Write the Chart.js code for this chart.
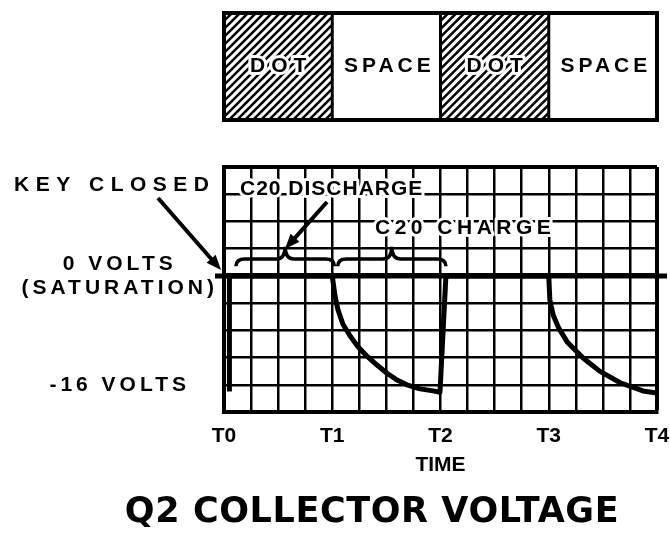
<!DOCTYPE html>
<html>
<head>
<meta charset="utf-8">
<script src="https://cdn.jsdelivr.net/npm/chart.js@4.4.0/dist/chart.umd.min.js"></script>
<style>
  html, body { margin: 0; padding: 0; background: #fff; }
  #wrap { width: 670px; height: 533px; }
</style>
</head>
<body>
<div id="wrap"><canvas id="scope"></canvas></div>
<script>
// time in dot/space periods (T0..T4), collector voltage in volts
const timeLabels = ["T0", "T1", "T2", "T3", "T4"];
const keyStates = ["DOT", "SPACE", "DOT", "SPACE"];
const timeT = [0.05, 0.05, 1.0, 1.025, 1.053, 1.099, 1.164, 1.238, 1.321, 1.413, 1.506, 1.598, 1.69, 1.811, 1.931, 1.995, 2.05,
  3.0, 3.01, 3.04, 3.09, 3.17, 3.32, 3.47, 3.66, 3.87, 4.0];
const collectorV = [-17, 0, 0, -2.9, -5.0, -7.1, -8.8, -10.4, -11.8, -13.1, -14.3, -15.3, -16.0, -16.6, -16.9, -17.1, 0,
  0, -3.5, -5.7, -7.6, -9.7, -12.1, -14.0, -15.7, -16.9, -17.2];
const voltTicks = [0, -16];
const voltNames = [["0 VOLTS", "(SATURATION)"], "-16 VOLTS"];

const LABEL_FONT = 'bold 21px "Liberation Sans"';

function spacedText(ctx, text, x, y, spacing, align, halo, font) {
  ctx.save();
  ctx.font = font || LABEL_FONT;
  ctx.letterSpacing = spacing + "px";
  ctx.textAlign = align || "left";
  ctx.textBaseline = "middle";
  if (halo) {
    ctx.lineWidth = 6;
    ctx.lineJoin = "round";
    ctx.strokeStyle = "#fff";
    ctx.strokeText(text, x, y);
  }
  ctx.fillStyle = "#000";
  ctx.fillText(text, x, y);
  ctx.restore();
}

function arrow(ctx, x1, y1, x2, y2) {
  const a = Math.atan2(y2 - y1, x2 - x1);
  const c = Math.cos(a), s = Math.sin(a);
  ctx.beginPath();
  ctx.moveTo(x1, y1);
  ctx.lineTo(x2 - 10 * c, y2 - 10 * s);
  ctx.lineWidth = 4;
  ctx.stroke();
  ctx.beginPath();
  ctx.moveTo(x2, y2);
  ctx.lineTo(x2 - 15 * c + 6 * s, y2 - 15 * s - 6 * c);
  ctx.lineTo(x2 - 15 * c - 6 * s, y2 - 15 * s + 6 * c);
  ctx.closePath();
  ctx.fill();
}

function brace(ctx, xa, xb, yBase, yEnd, yPeak) {
  const xm = (xa + xb) / 2;
  ctx.beginPath();
  ctx.moveTo(xa, yEnd);
  ctx.quadraticCurveTo(xa, yBase, xa + 9, yBase);
  ctx.lineTo(xm - 9, yBase);
  ctx.quadraticCurveTo(xm, yBase, xm, yPeak);
  ctx.quadraticCurveTo(xm, yBase, xm + 9, yBase);
  ctx.lineTo(xb - 9, yBase);
  ctx.quadraticCurveTo(xb, yBase, xb, yEnd);
  ctx.lineWidth = 3.5;
  ctx.stroke();
}

const scopeDecor = {
  id: "scopeDecor",
  afterDatasetsDraw(chart) {
    const ctx = chart.ctx;
    const area = chart.chartArea;
    const xs = chart.scales.x, ys = chart.scales.y;
    ctx.save();
    ctx.strokeStyle = "#000";
    ctx.fillStyle = "#000";
    ctx.lineCap = "butt";

    // thick zero line running past both edges
    const y0 = ys.getPixelForValue(0);
    ctx.beginPath();
    ctx.moveTo(area.left - 9, y0);
    ctx.lineTo(area.right + 10, y0);
    ctx.lineWidth = 5;
    ctx.stroke();

    // DOT / SPACE key strip above the scope
    const bTop = area.top - 154, bBot = area.top - 47;
    keyStates.forEach((state, i) => {
      const xa = xs.getPixelForValue(i), xb = xs.getPixelForValue(i + 1);
      if (state === "DOT") {
        ctx.save();
        ctx.beginPath();
        ctx.rect(xa, bTop, xb - xa, bBot - bTop);
        ctx.clip();
        ctx.lineWidth = 2.5;
        const h = bBot - bTop;
        for (let k = xa - h; k < xb + 8; k += 8) {
          ctx.beginPath();
          ctx.moveTo(k, bBot);
          ctx.lineTo(k + h, bTop);
          ctx.stroke();
        }
        ctx.restore();
      }
      spacedText(ctx, state, (xa + xb) / 2 + 3, (bTop + bBot) / 2, state === "DOT" ? 6 : 4, "center", state === "DOT");
      if (i > 0) {
        ctx.beginPath();
        ctx.moveTo(xa, bTop);
        ctx.lineTo(xa, bBot);
        ctx.lineWidth = 3;
        ctx.stroke();
      }
    });
    ctx.lineWidth = 4;
    ctx.strokeRect(area.left, bTop, area.right - area.left, bBot - bTop);

    // discharge / charge braces over the zero line
    const yb = ys.getPixelForValue(2.5), ye = ys.getPixelForValue(1.4), yp = ys.getPixelForValue(4.3);
    brace(ctx, xs.getPixelForValue(0.11), xs.getPixelForValue(1.02), yb, ye, yp);
    brace(ctx, xs.getPixelForValue(1.05), xs.getPixelForValue(2.05), yb, ye, yp);

    // annotations
    spacedText(ctx, "KEY CLOSED", 14, 185, 6.5, "left");
    arrow(ctx, 158, 198, 221, 270);
    spacedText(ctx, "C20 DISCHARGE", 240, 189, 1, "left", true);
    arrow(ctx, 327, 202, 285, 249);
    spacedText(ctx, "C20 CHARGE", 375, 228, 4.5, "left", true);

    // caption
    spacedText(ctx, "Q2 COLLECTOR VOLTAGE", 372, 513, 0.6, "center", false, 'bold 35px "DejaVu Sans"');
    ctx.restore();

    // y tick labels are drawn next (z 1) with the wide stencil spacing
    ctx.letterSpacing = "4px";
  },
  afterDraw(chart) {
    chart.ctx.letterSpacing = "0px";
  }
};

new Chart(document.getElementById("scope"), {
  type: "line",
  data: {
    datasets: [{
      data: timeT.map((t, i) => ({ x: t, y: collectorV[i] })),
      borderColor: "#000",
      borderWidth: 5,
      pointRadius: 0,
      tension: 0,
      borderJoinStyle: "round",
      fill: false
    }]
  },
  options: {
    responsive: true,
    maintainAspectRatio: false,
    animation: false,
    layout: { padding: { top: 167, right: 0, bottom: 55, left: 0 } },
    plugins: { legend: { display: false }, title: { display: false }, tooltip: { enabled: false } },
    scales: {
      x: {
        type: "linear",
        min: 0,
        max: 4,
        afterFit: (s) => { s.height = 66; s.paddingRight = 13; },
        ticks: {
          stepSize: 0.25,
          autoSkip: false,
          maxRotation: 0,
          padding: 12,
          color: "#000",
          font: { family: "Liberation Sans", weight: "bold", size: 21 },
          callback: (v) => Number.isInteger(v) ? timeLabels[v] : ""
        },
        grid: {
          color: "#000",
          drawTicks: false,
          lineWidth: (c) => (c.tick && c.tick.value === 4 ? 4 : 2.5)
        },
        border: { display: true, color: "#000", width: 4 },
        title: {
          display: true,
          text: "TIME",
          color: "#000",
          padding: 0,
          font: { family: "Liberation Sans", weight: "bold", size: 21 }
        }
      },
      y: {
        min: -20,
        max: 16,
        afterFit: (s) => { s.width = 224; },
        ticks: {
          stepSize: 4,
          autoSkip: false,
          padding: 30,
          crossAlign: "center",
          z: 1,
          color: "#000",
          font: { family: "Liberation Sans", weight: "bold", size: 21, lineHeight: 1.15 },
          callback: (v) => {
            const k = voltTicks.indexOf(v);
            return k >= 0 ? voltNames[k] : "";
          }
        },
        grid: {
          color: "#000",
          drawTicks: false,
          lineWidth: (c) => {
            if (!c.tick) return 2.5;
            if (c.tick.value === 0) return 5;
            return c.tick.value === 16 ? 4 : 2.5;
          }
        },
        border: { display: true, color: "#000", width: 4 }
      }
    }
  },
  plugins: [scopeDecor]
});
</script>
</body>
</html>
